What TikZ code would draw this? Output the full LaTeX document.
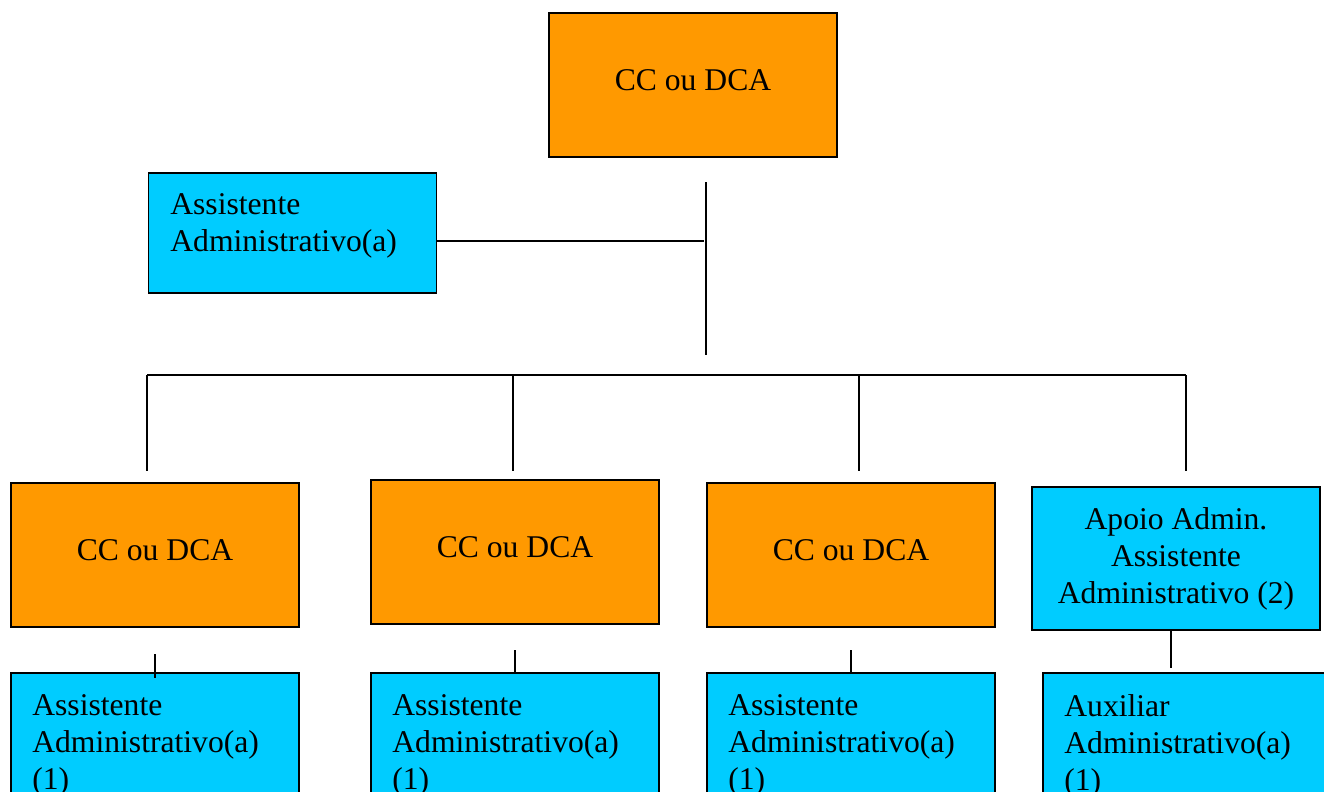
\documentclass[tikz,border=0pt]{standalone}
\usepackage{fontspec}
\setmainfont{Liberation Serif}
\definecolor{unitorange}{HTML}{FF9900}
\definecolor{staffblue}{HTML}{00CCFF}

\begin{document}
\begin{tikzpicture}[x=0.02cm,y=-0.02cm,
    font=\fontsize{18}{21}\selectfont,
    unitbox/.style={draw,line width=1pt,fill=unitorange,minimum width=5.76cm,minimum height=2.88cm,inner sep=0pt,text depth=0.18cm},
    staffbox/.style={draw,line width=1pt,fill=staffblue,minimum width=5.76cm,inner sep=0pt},
    stafftext/.style={anchor=north west,align=left,inner sep=0pt},
    link/.style={line width=1pt}]
        \useasboundingbox (0,0) rectangle (1324,791);

        % Top unit.
        \node[unitbox] (top) at (693,85) {CC ou DCA};

        % Support staff of the top unit.
        \node[staffbox,minimum height=2.4cm] (asst) at (292.5,233) {};
        \node[stafftext] (assttxt) at (170,193) {Assistente\\Administrativo(a)};

        % Stem and bus.
        \coordinate (stemT) at (706,182);
        \coordinate (stemB) at (706,355);
        \coordinate (j) at (704,241);
        \draw[link] (stemT) -- (stemB);
        \draw[link] (asst.east |- j) -- (j);
        \coordinate (busL) at (147,375);
        \coordinate (busR) at (1186,375);
        \draw[link] (busL) -- (busR);
        \coordinate (d1) at (147,471);
        \coordinate (d2) at (513,471);
        \coordinate (d3) at (859,471);
        \coordinate (d4) at (1186,471);
        \foreach \d in {d1,d2,d3,d4} {\draw[link] (busL -| \d) -- (\d);}

        % Second level.
        \node[unitbox] (u1) at (155,555) {CC ou DCA};
        \node[unitbox] (u2) at (515,552) {CC ou DCA};
        \node[unitbox] (u3) at (851,555) {CC ou DCA};
        \node[staffbox,minimum height=2.86cm,align=center] (apoio) at (1176,558.5)
            {Apoio Admin.\\Assistente\\Administrativo (2)};

        % Third level (cut at the bottom).
        \node[staffbox,minimum height=3.54cm] (b1) at (155,761.5) {};
        \node[staffbox,minimum height=3.54cm] (b2) at (515,761.5) {};
        \node[staffbox,minimum height=3.54cm] (b3) at (851,761.5) {};
        \node[staffbox,minimum height=3.54cm] (b4) at (1187,761.5) {};
        \node[stafftext] (b1txt) at (32,694) {Assistente\\Administrativo(a)\\(1)};
        \node[stafftext] (b2txt) at (392,694) {Assistente\\Administrativo(a)\\(1)};
        \node[stafftext] (b3txt) at (728,694) {Assistente\\Administrativo(a)\\(1)};
        \node[stafftext] (b4txt) at (1064,694) {Auxiliar\\Administrativo(a)\\(1)};

        % Short links.
        \coordinate (s1) at (155,654);
        \coordinate (s2) at (515,650);
        \coordinate (s3) at (851,650);
        \coordinate (f4) at (1171,668);
        \draw[link] (s1) -- ([yshift=-0.12cm]b1.north);
        \draw[link] (s2) -- (b2.north);
        \draw[link] (s3) -- (b3.north);
        \draw[link] (apoio.south -| f4) -- (f4);
\end{tikzpicture}
\end{document}
